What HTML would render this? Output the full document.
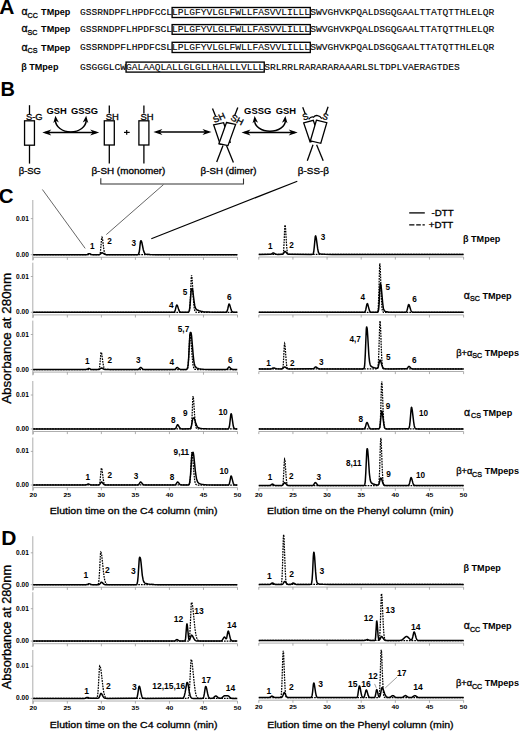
<!DOCTYPE html>
<html><head><meta charset="utf-8"><style>
html,body{margin:0;padding:0;background:#fff;width:520px;height:731px;overflow:hidden}
svg{display:block}

</style></head><body>
<svg width="520" height="731" viewBox="0 0 520 731">
<rect width="520" height="731" fill="#fff"/>
<text transform="translate(-0.80,14.30) scale(1.0,1)" font-family="Liberation Sans" font-size="21" font-weight="bold" font-style="normal" text-anchor="start" fill="#000">A</text>
<text transform="translate(21.60,15.30) scale(1.05,1)" font-family="Liberation Sans" font-size="10.0" font-weight="normal" font-style="normal" text-anchor="start" fill="#000" stroke="#000" stroke-width="0.3">α</text>
<text transform="translate(27.60,17.70) scale(1.05,1)" font-family="Liberation Sans" font-size="6.8" font-weight="normal" font-style="normal" text-anchor="start" fill="#000" stroke="#000" stroke-width="0.3">CC</text>
<text transform="translate(41.10,15.30) scale(1.08,1)" font-family="Liberation Sans" font-size="8.4" font-weight="bold" font-style="normal" text-anchor="start" fill="#000">TMpep</text>
<text transform="translate(80.00,14.90) scale(1.0,1)" font-family="Liberation Mono" font-size="9.595" font-weight="normal" font-style="normal" text-anchor="start" fill="#000" stroke="#000" stroke-width="0.12">GSSRNDPFLHPDFCCL</text>
<text transform="translate(172.11,14.90) scale(1.0,1)" font-family="Liberation Mono" font-size="9.595" font-weight="normal" font-style="normal" text-anchor="start" fill="#000" stroke="#000" stroke-width="0.08">LPLGFYVLGLFWLLFASVVLILLL</text>
<text transform="translate(310.28,14.90) scale(1.0,1)" font-family="Liberation Mono" font-size="9.595" font-weight="normal" font-style="normal" text-anchor="start" fill="#000" stroke="#000" stroke-width="0.12">SWVGHVKPQALDSGQGAALTTATQTTHLELQR</text>
<rect x="172.11" y="7.50" width="138.17" height="10.00" fill="none" stroke="#000" stroke-width="1.35"/>
<text transform="translate(21.60,32.30) scale(1.05,1)" font-family="Liberation Sans" font-size="10.0" font-weight="normal" font-style="normal" text-anchor="start" fill="#000" stroke="#000" stroke-width="0.3">α</text>
<text transform="translate(27.60,34.70) scale(1.05,1)" font-family="Liberation Sans" font-size="6.8" font-weight="normal" font-style="normal" text-anchor="start" fill="#000" stroke="#000" stroke-width="0.3">SC</text>
<text transform="translate(41.10,32.30) scale(1.08,1)" font-family="Liberation Sans" font-size="8.4" font-weight="bold" font-style="normal" text-anchor="start" fill="#000">TMpep</text>
<text transform="translate(80.00,32.20) scale(1.0,1)" font-family="Liberation Mono" font-size="9.595" font-weight="normal" font-style="normal" text-anchor="start" fill="#000" stroke="#000" stroke-width="0.12">GSSRNDPFLHPDFSCL</text>
<text transform="translate(172.11,32.20) scale(1.0,1)" font-family="Liberation Mono" font-size="9.595" font-weight="normal" font-style="normal" text-anchor="start" fill="#000" stroke="#000" stroke-width="0.08">LPLGFYVLGLFWLLFASVVLILLL</text>
<text transform="translate(310.28,32.20) scale(1.0,1)" font-family="Liberation Mono" font-size="9.595" font-weight="normal" font-style="normal" text-anchor="start" fill="#000" stroke="#000" stroke-width="0.12">SWVGHVKPQALDSGQGAALTTATQTTHLELQR</text>
<rect x="172.11" y="24.60" width="138.17" height="9.70" fill="none" stroke="#000" stroke-width="1.35"/>
<text transform="translate(21.60,50.50) scale(1.05,1)" font-family="Liberation Sans" font-size="10.0" font-weight="normal" font-style="normal" text-anchor="start" fill="#000" stroke="#000" stroke-width="0.3">α</text>
<text transform="translate(27.60,52.90) scale(1.05,1)" font-family="Liberation Sans" font-size="6.8" font-weight="normal" font-style="normal" text-anchor="start" fill="#000" stroke="#000" stroke-width="0.3">CS</text>
<text transform="translate(41.10,50.50) scale(1.08,1)" font-family="Liberation Sans" font-size="8.4" font-weight="bold" font-style="normal" text-anchor="start" fill="#000">TMpep</text>
<text transform="translate(80.00,50.40) scale(1.0,1)" font-family="Liberation Mono" font-size="9.595" font-weight="normal" font-style="normal" text-anchor="start" fill="#000" stroke="#000" stroke-width="0.12">GSSRNDPFLHPDFCSL</text>
<text transform="translate(172.11,50.40) scale(1.0,1)" font-family="Liberation Mono" font-size="9.595" font-weight="normal" font-style="normal" text-anchor="start" fill="#000" stroke="#000" stroke-width="0.08">LPLGFYVLGLFWLLFASVVLILLL</text>
<text transform="translate(310.28,50.40) scale(1.0,1)" font-family="Liberation Mono" font-size="9.595" font-weight="normal" font-style="normal" text-anchor="start" fill="#000" stroke="#000" stroke-width="0.12">SWVGHVKPQALDSGQGAALTTATQTTHLELQR</text>
<rect x="172.11" y="42.30" width="138.17" height="10.20" fill="none" stroke="#000" stroke-width="1.35"/>
<text transform="translate(-0.50,70.20) scale(1.03,1)" font-family="Liberation Sans" font-size="9.0" font-weight="normal" font-style="normal" text-anchor="start" fill="#000" stroke="#000" stroke-width="0.3"></text>
<text transform="translate(21.20,70.20) scale(1.08,1)" font-family="Liberation Sans" font-size="8.4" font-weight="bold" font-style="normal" text-anchor="start" fill="#000">β TMpep</text>
<text transform="translate(80.00,70.00) scale(1.0,1)" font-family="Liberation Mono" font-size="9.595" font-weight="normal" font-style="normal" text-anchor="start" fill="#000" stroke="#000" stroke-width="0.12">GSGGGLCW</text>
<text transform="translate(126.06,70.00) scale(1.0,1)" font-family="Liberation Mono" font-size="9.595" font-weight="normal" font-style="normal" text-anchor="start" fill="#000" stroke="#000" stroke-width="0.08">GALAAQLALLGLGLLHALLLVLLL</text>
<text transform="translate(264.22,70.00) scale(1.0,1)" font-family="Liberation Mono" font-size="9.595" font-weight="normal" font-style="normal" text-anchor="start" fill="#000" stroke="#000" stroke-width="0.12">SRLRRLRARARARAAARLSLTDPLVAERAGTDES</text>
<rect x="126.06" y="62.10" width="138.17" height="10.00" fill="none" stroke="#000" stroke-width="1.35"/>
<text transform="translate(0.60,95.70) scale(1.0,1)" font-family="Liberation Sans" font-size="20" font-weight="bold" font-style="normal" text-anchor="start" fill="#000">B</text>
<line x1="29.50" y1="105.20" x2="29.50" y2="114.50" stroke="#000" stroke-width="1.3" />
<rect x="24.55" y="120.80" width="9.90" height="24.40" fill="#fff" stroke="#000" stroke-width="1.3"/>
<line x1="29.50" y1="145.20" x2="29.50" y2="163.60" stroke="#000" stroke-width="1.3" />
<text transform="translate(25.90,120.40) scale(1.04,1)" font-family="Liberation Sans" font-size="9.0" font-weight="normal" font-style="normal" text-anchor="start" fill="#000" stroke="#000" stroke-width="0.3">S-G</text>
<text transform="translate(18.70,174.10) scale(1.05,1)" font-family="Liberation Sans" font-size="9.0" font-weight="normal" font-style="normal" text-anchor="start" fill="#000" stroke="#000" stroke-width="0.3">β-SG</text>
<line x1="109.30" y1="105.50" x2="109.30" y2="113.50" stroke="#000" stroke-width="1.3" />
<rect x="104.30" y="120.80" width="10.00" height="24.20" fill="#fff" stroke="#000" stroke-width="1.3"/>
<line x1="109.30" y1="145.00" x2="109.30" y2="163.50" stroke="#000" stroke-width="1.3" />
<text transform="translate(105.70,119.90) scale(1.05,1)" font-family="Liberation Sans" font-size="9.0" font-weight="normal" font-style="normal" text-anchor="start" fill="#000" stroke="#000" stroke-width="0.3">SH</text>
<line x1="143.90" y1="105.50" x2="143.90" y2="113.50" stroke="#000" stroke-width="1.3" />
<rect x="138.90" y="120.80" width="10.00" height="24.20" fill="#fff" stroke="#000" stroke-width="1.3"/>
<line x1="143.90" y1="145.00" x2="143.90" y2="163.50" stroke="#000" stroke-width="1.3" />
<text transform="translate(140.40,119.90) scale(1.05,1)" font-family="Liberation Sans" font-size="9.0" font-weight="normal" font-style="normal" text-anchor="start" fill="#000" stroke="#000" stroke-width="0.3">SH</text>
<line x1="124.00" y1="132.40" x2="129.70" y2="132.40" stroke="#000" stroke-width="1.2" />
<line x1="126.70" y1="130.00" x2="126.70" y2="134.80" stroke="#000" stroke-width="1.2" />
<text transform="translate(91.40,174.10) scale(1.1,1)" font-family="Liberation Sans" font-size="9.0" font-weight="normal" font-style="normal" text-anchor="start" fill="#000" stroke="#000" stroke-width="0.3">β-SH (monomer)</text>
<text transform="translate(200.60,174.10) scale(1.08,1)" font-family="Liberation Sans" font-size="9.0" font-weight="normal" font-style="normal" text-anchor="start" fill="#000" stroke="#000" stroke-width="0.3">β-SH (dimer)</text>
<text transform="translate(297.80,174.10) scale(1.1,1)" font-family="Liberation Sans" font-size="9.0" font-weight="normal" font-style="normal" text-anchor="start" fill="#000" stroke="#000" stroke-width="0.3">β-SS-β</text>
<line x1="45.30" y1="132.40" x2="96.20" y2="132.40" stroke="#000" stroke-width="1.5" />
<path d="M42.30,132.40 L51.30,129.40 L48.78,132.40 L51.30,135.40 Z" fill="#000" stroke="none"/>
<path d="M99.20,132.40 L90.20,135.40 L92.72,132.40 L90.20,129.40 Z" fill="#000" stroke="none"/>
<path d="M55.40,120.30 A15.40,11.60 0 0 0 86.20,120.30" stroke="#000" stroke-width="1.5" fill="none" />
<path d="M55.40,115.80 L58.88,122.49 L55.90,120.81 L53.31,123.04 Z" fill="#000" stroke="none"/>
<path d="M86.20,115.80 L88.29,123.04 L85.70,120.81 L82.72,122.49 Z" fill="#000" stroke="none"/>
<text transform="translate(46.40,113.80) scale(1.12,1)" font-family="Liberation Sans" font-size="8.4" font-weight="bold" font-style="normal" text-anchor="start" fill="#000">GSH</text>
<text transform="translate(71.00,113.80) scale(1.12,1)" font-family="Liberation Sans" font-size="8.4" font-weight="bold" font-style="normal" text-anchor="start" fill="#000">GSSG</text>
<line x1="156.40" y1="132.00" x2="208.50" y2="132.00" stroke="#000" stroke-width="1.5" />
<path d="M153.40,132.00 L162.40,129.00 L159.88,132.00 L162.40,135.00 Z" fill="#000" stroke="none"/>
<path d="M211.50,132.00 L202.50,135.00 L205.02,132.00 L202.50,129.00 Z" fill="#000" stroke="none"/>
<line x1="244.50" y1="132.40" x2="294.70" y2="132.40" stroke="#000" stroke-width="1.5" />
<path d="M241.50,132.40 L250.50,129.40 L247.98,132.40 L250.50,135.40 Z" fill="#000" stroke="none"/>
<path d="M297.70,132.40 L288.70,135.40 L291.22,132.40 L288.70,129.40 Z" fill="#000" stroke="none"/>
<path d="M254.60,120.50 A15.40,10.70 0 0 0 285.40,120.50" stroke="#000" stroke-width="1.5" fill="none" />
<path d="M254.60,116.00 L258.08,122.69 L255.10,121.01 L252.51,123.24 Z" fill="#000" stroke="none"/>
<path d="M285.40,116.00 L287.49,123.24 L284.90,121.01 L281.92,122.69 Z" fill="#000" stroke="none"/>
<text transform="translate(244.10,113.80) scale(1.12,1)" font-family="Liberation Sans" font-size="8.4" font-weight="bold" font-style="normal" text-anchor="start" fill="#000">GSSG</text>
<text transform="translate(275.70,113.80) scale(1.12,1)" font-family="Liberation Sans" font-size="8.4" font-weight="bold" font-style="normal" text-anchor="start" fill="#000">GSH</text>
<line x1="212.50" y1="108.60" x2="215.60" y2="116.30" stroke="#000" stroke-width="1.3" />
<line x1="237.80" y1="107.50" x2="234.60" y2="115.80" stroke="#000" stroke-width="1.3" />
<line x1="223.00" y1="145.50" x2="216.70" y2="161.90" stroke="#000" stroke-width="1.3" />
<line x1="226.50" y1="145.50" x2="233.40" y2="162.50" stroke="#000" stroke-width="1.3" />
<polygon points="213.60,124.80 223.60,122.70 230.20,142.20 220.20,144.30" fill="#fff" stroke="#000" stroke-width="1.3" stroke-linejoin="miter"/>
<polygon points="226.50,122.50 235.60,124.40 228.00,145.60 218.90,143.70" fill="#fff" stroke="#000" stroke-width="1.3" stroke-linejoin="miter"/>
<text transform="translate(214.4,122.9) rotate(-24) scale(1.05,1)" font-family="Liberation Sans" font-size="8.6" stroke="#000" stroke-width="0.3">SH</text>
<text transform="translate(230.0,119.6) rotate(27) scale(1.05,1)" font-family="Liberation Sans" font-size="9" stroke="#000" stroke-width="0.3">SH</text>
<line x1="302.70" y1="107.30" x2="305.30" y2="114.00" stroke="#000" stroke-width="1.3" />
<line x1="328.10" y1="106.80" x2="325.60" y2="114.00" stroke="#000" stroke-width="1.3" />
<line x1="313.00" y1="144.80" x2="307.30" y2="160.70" stroke="#000" stroke-width="1.3" />
<line x1="316.60" y1="144.80" x2="323.20" y2="160.70" stroke="#000" stroke-width="1.3" />
<polygon points="303.70,122.90 313.30,120.40 319.70,139.40 310.10,141.90" fill="#fff" stroke="#000" stroke-width="1.3" stroke-linejoin="miter"/>
<polygon points="316.40,120.20 326.80,122.70 320.80,143.30 310.40,140.80" fill="#fff" stroke="#000" stroke-width="1.3" stroke-linejoin="miter"/>
<text transform="translate(303.6,120.4) rotate(-18)" font-family="Liberation Sans" font-size="8.8" stroke="#000" stroke-width="0.3">S</text>
<text transform="translate(321.6,118.6) rotate(20)" font-family="Liberation Sans" font-size="8.8" stroke="#000" stroke-width="0.3">S</text>
<path d="M308.6,119.4 C310.5,116.8 312.0,116.6 313.6,117.2 C315.5,114.6 319.5,115.0 321.8,118.6" stroke="#000" stroke-width="1.3" fill="none" />
<path d="M100.8,178.2 L100.8,184.0 L243.5,184.0 L243.5,178.6" stroke="#333" stroke-width="1.1" fill="none" />
<line x1="42.40" y1="189.50" x2="85.20" y2="248.40" stroke="#555" stroke-width="0.9" />
<line x1="163.50" y1="184.60" x2="106.30" y2="234.60" stroke="#555" stroke-width="0.9" />
<line x1="297.30" y1="181.20" x2="151.30" y2="238.70" stroke="#000" stroke-width="1.2" />
<text transform="translate(-1.20,203.20) scale(1.0,1)" font-family="Liberation Sans" font-size="20.5" font-weight="bold" font-style="normal" text-anchor="start" fill="#000">C</text>
<line x1="33.30" y1="257.30" x2="237.50" y2="257.30" stroke="#999" stroke-width="0.8" />
<line x1="33.30" y1="257.30" x2="33.30" y2="259.90" stroke="#999" stroke-width="0.8" />
<line x1="67.33" y1="257.30" x2="67.33" y2="259.90" stroke="#999" stroke-width="0.8" />
<line x1="101.37" y1="257.30" x2="101.37" y2="259.90" stroke="#999" stroke-width="0.8" />
<line x1="135.40" y1="257.30" x2="135.40" y2="259.90" stroke="#999" stroke-width="0.8" />
<line x1="169.43" y1="257.30" x2="169.43" y2="259.90" stroke="#999" stroke-width="0.8" />
<line x1="203.47" y1="257.30" x2="203.47" y2="259.90" stroke="#999" stroke-width="0.8" />
<line x1="237.50" y1="257.30" x2="237.50" y2="259.90" stroke="#999" stroke-width="0.8" />
<line x1="32.80" y1="200.00" x2="32.80" y2="260.50" stroke="#999" stroke-width="0.8" />
<line x1="30.80" y1="218.60" x2="32.80" y2="218.60" stroke="#999" stroke-width="0.8" />
<line x1="30.80" y1="254.70" x2="32.80" y2="254.70" stroke="#999" stroke-width="0.8" />
<text transform="translate(28.90,220.60) scale(0.97,1)" font-family="Liberation Sans" font-size="6.8" font-weight="bold" font-style="normal" text-anchor="end" fill="#000">0.01</text>
<text transform="translate(28.90,256.70) scale(0.97,1)" font-family="Liberation Sans" font-size="6.8" font-weight="bold" font-style="normal" text-anchor="end" fill="#000">0.00</text>
<path d="M33.3,254.70 L99.3,254.64 L99.8,254.30 L100.0,253.80 L100.3,252.86 L100.5,251.29 L101.5,239.68 L101.8,237.64 L102.0,237.12 L102.3,237.64 L102.5,238.85 L103.8,248.99 L104.3,251.90 L104.5,252.86 L105.0,254.00 L105.5,254.48 L106.0,254.64 L237.3,254.70" stroke="#000" stroke-width="1.25" fill="none" stroke-dasharray="1.7 1.0"/>
<path d="M33.3,254.70 L86.0,254.69 L87.3,254.54 L88.8,253.78 L89.3,253.70 L89.8,253.80 L91.3,254.43 L92.3,254.64 L98.8,254.69 L99.5,254.60 L100.0,254.40 L100.5,254.00 L101.5,252.89 L102.0,252.70 L102.8,252.97 L104.0,253.91 L104.8,254.35 L105.5,254.58 L106.3,254.67 L137.6,254.68 L138.1,254.57 L138.6,254.08 L139.1,252.59 L139.6,249.36 L140.3,242.70 L140.6,241.23 L140.8,240.70 L141.1,240.75 L141.3,240.97 L141.8,242.23 L143.3,249.66 L144.1,252.21 L144.6,253.20 L145.1,253.78 L145.8,254.20 L146.6,254.37 L150.1,254.60 L156.6,254.69 L237.3,254.70" stroke="#000" stroke-width="1.5" fill="none" stroke-linejoin="round"/>
<line x1="258.80" y1="257.00" x2="463.60" y2="257.00" stroke="#999" stroke-width="0.8" />
<line x1="258.80" y1="257.00" x2="258.80" y2="259.60" stroke="#999" stroke-width="0.8" />
<line x1="292.93" y1="257.00" x2="292.93" y2="259.60" stroke="#999" stroke-width="0.8" />
<line x1="327.07" y1="257.00" x2="327.07" y2="259.60" stroke="#999" stroke-width="0.8" />
<line x1="361.20" y1="257.00" x2="361.20" y2="259.60" stroke="#999" stroke-width="0.8" />
<line x1="395.33" y1="257.00" x2="395.33" y2="259.60" stroke="#999" stroke-width="0.8" />
<line x1="429.47" y1="257.00" x2="429.47" y2="259.60" stroke="#999" stroke-width="0.8" />
<line x1="463.60" y1="257.00" x2="463.60" y2="259.60" stroke="#999" stroke-width="0.8" />
<path d="M258.8,254.40 L281.8,254.40 L282.6,254.34 L282.8,254.19 L283.1,253.79 L283.3,252.85 L283.6,250.95 L284.1,242.65 L284.6,230.41 L284.8,226.08 L285.1,224.94 L285.3,226.20 L285.6,229.04 L286.6,245.53 L287.1,250.79 L287.6,253.26 L287.8,253.81 L288.1,254.12 L288.6,254.35 L463.6,254.40" stroke="#000" stroke-width="1.25" fill="none" stroke-dasharray="1.7 1.0"/>
<path d="M258.8,254.40 L270.6,254.36 L271.3,254.15 L272.8,253.02 L273.3,252.90 L273.8,253.05 L275.3,253.99 L276.3,254.31 L277.8,254.40 L282.1,254.36 L282.6,254.25 L283.1,253.95 L283.6,253.35 L284.6,251.69 L284.8,251.46 L285.1,251.40 L285.3,251.48 L285.8,251.92 L287.3,253.77 L288.1,254.21 L288.8,254.36 L311.3,254.40 L312.6,254.31 L313.1,253.95 L313.3,253.47 L313.8,251.29 L314.3,246.79 L315.1,238.07 L315.3,236.35 L315.6,235.91 L315.8,236.24 L316.3,238.42 L317.6,248.14 L318.3,251.85 L318.8,253.05 L319.3,253.62 L319.8,253.88 L320.8,254.08 L324.8,254.32 L332.3,254.39 L463.6,254.40" stroke="#000" stroke-width="1.5" fill="none" stroke-linejoin="round"/>
<text transform="translate(90.10,249.20) scale(1.0,1)" font-family="Liberation Sans" font-size="8.2" font-weight="bold" font-style="normal" text-anchor="start" fill="#000">1</text>
<text transform="translate(107.30,244.20) scale(1.0,1)" font-family="Liberation Sans" font-size="8.2" font-weight="bold" font-style="normal" text-anchor="start" fill="#000">2</text>
<text transform="translate(131.60,245.80) scale(1.0,1)" font-family="Liberation Sans" font-size="8.2" font-weight="bold" font-style="normal" text-anchor="start" fill="#000">3</text>
<text transform="translate(267.90,248.50) scale(1.0,1)" font-family="Liberation Sans" font-size="8.2" font-weight="bold" font-style="normal" text-anchor="start" fill="#000">1</text>
<text transform="translate(289.20,248.00) scale(1.0,1)" font-family="Liberation Sans" font-size="8.2" font-weight="bold" font-style="normal" text-anchor="start" fill="#000">2</text>
<text transform="translate(320.80,239.60) scale(1.0,1)" font-family="Liberation Sans" font-size="8.2" font-weight="bold" font-style="normal" text-anchor="start" fill="#000">3</text>
<text transform="translate(-0.50,241.90) scale(1.03,1)" font-family="Liberation Sans" font-size="9.0" font-weight="normal" font-style="normal" text-anchor="start" fill="#000" stroke="#000" stroke-width="0.3"></text>
<text transform="translate(463.00,241.90) scale(1.08,1)" font-family="Liberation Sans" font-size="8.4" font-weight="bold" font-style="normal" text-anchor="start" fill="#000">β TMpep</text>
<line x1="409.20" y1="212.90" x2="424.80" y2="212.90" stroke="#000" stroke-width="1.3" />
<line x1="409.20" y1="224.80" x2="425.00" y2="224.80" stroke="#000" stroke-width="1.3" stroke-dasharray="5.2 1.8 4.6 1.7 2.3"/>
<text transform="translate(431.60,216.40) scale(1.1,1)" font-family="Liberation Sans" font-size="8.8" font-weight="normal" font-style="normal" text-anchor="start" fill="#000" stroke="#000" stroke-width="0.3">-DTT</text>
<text transform="translate(428.80,227.70) scale(1.1,1)" font-family="Liberation Sans" font-size="8.8" font-weight="normal" font-style="normal" text-anchor="start" fill="#000" stroke="#000" stroke-width="0.3">+DTT</text>
<line x1="33.30" y1="314.90" x2="237.50" y2="314.90" stroke="#999" stroke-width="0.8" />
<line x1="33.30" y1="314.90" x2="33.30" y2="317.50" stroke="#999" stroke-width="0.8" />
<line x1="67.33" y1="314.90" x2="67.33" y2="317.50" stroke="#999" stroke-width="0.8" />
<line x1="101.37" y1="314.90" x2="101.37" y2="317.50" stroke="#999" stroke-width="0.8" />
<line x1="135.40" y1="314.90" x2="135.40" y2="317.50" stroke="#999" stroke-width="0.8" />
<line x1="169.43" y1="314.90" x2="169.43" y2="317.50" stroke="#999" stroke-width="0.8" />
<line x1="203.47" y1="314.90" x2="203.47" y2="317.50" stroke="#999" stroke-width="0.8" />
<line x1="237.50" y1="314.90" x2="237.50" y2="317.50" stroke="#999" stroke-width="0.8" />
<line x1="32.80" y1="262.70" x2="32.80" y2="318.10" stroke="#999" stroke-width="0.8" />
<line x1="30.80" y1="276.50" x2="32.80" y2="276.50" stroke="#999" stroke-width="0.8" />
<line x1="30.80" y1="312.30" x2="32.80" y2="312.30" stroke="#999" stroke-width="0.8" />
<text transform="translate(28.90,278.50) scale(0.97,1)" font-family="Liberation Sans" font-size="6.8" font-weight="bold" font-style="normal" text-anchor="end" fill="#000">0.01</text>
<text transform="translate(28.90,314.30) scale(0.97,1)" font-family="Liberation Sans" font-size="6.8" font-weight="bold" font-style="normal" text-anchor="end" fill="#000">0.00</text>
<path d="M33.3,312.30 L188.6,312.26 L189.1,311.96 L189.3,311.46 L189.6,310.40 L189.8,308.43 L190.3,300.29 L191.1,280.71 L191.3,276.44 L191.6,275.33 L191.8,276.27 L192.1,278.47 L193.3,298.11 L194.1,306.90 L194.3,308.66 L194.8,310.82 L195.1,311.41 L195.6,312.01 L196.1,312.22 L197.3,312.30 L237.3,312.30" stroke="#000" stroke-width="1.25" fill="none" stroke-dasharray="1.7 1.0"/>
<path d="M33.3,312.30 L173.3,312.28 L173.8,312.22 L174.3,311.98 L174.8,311.31 L175.3,309.93 L176.3,305.86 L176.6,305.22 L176.8,305.00 L177.1,305.13 L177.6,306.12 L178.6,309.35 L179.1,310.67 L179.6,311.52 L180.1,311.98 L180.6,312.19 L181.6,312.29 L188.1,312.24 L188.6,312.00 L188.8,311.69 L189.1,311.14 L189.6,308.80 L190.1,304.12 L191.1,291.15 L191.3,289.36 L191.6,288.89 L192.1,288.60 L192.3,288.82 L192.6,289.63 L192.8,291.06 L194.1,301.52 L194.8,305.88 L195.3,307.62 L195.8,308.70 L196.6,309.58 L197.3,310.07 L199.1,310.75 L201.1,311.26 L203.3,311.64 L206.1,311.92 L209.6,312.11 L214.3,312.23 L224.8,312.29 L226.1,312.21 L226.6,311.97 L226.8,311.70 L227.3,310.65 L227.8,308.73 L228.6,305.16 L228.8,304.36 L229.1,304.01 L229.3,304.09 L229.8,305.12 L231.1,309.60 L231.6,310.89 L232.1,311.67 L232.6,312.05 L233.3,312.25 L237.3,312.30" stroke="#000" stroke-width="1.5" fill="none" stroke-linejoin="round"/>
<line x1="258.80" y1="314.90" x2="463.60" y2="314.90" stroke="#999" stroke-width="0.8" />
<line x1="258.80" y1="314.90" x2="258.80" y2="317.50" stroke="#999" stroke-width="0.8" />
<line x1="292.93" y1="314.90" x2="292.93" y2="317.50" stroke="#999" stroke-width="0.8" />
<line x1="327.07" y1="314.90" x2="327.07" y2="317.50" stroke="#999" stroke-width="0.8" />
<line x1="361.20" y1="314.90" x2="361.20" y2="317.50" stroke="#999" stroke-width="0.8" />
<line x1="395.33" y1="314.90" x2="395.33" y2="317.50" stroke="#999" stroke-width="0.8" />
<line x1="429.47" y1="314.90" x2="429.47" y2="317.50" stroke="#999" stroke-width="0.8" />
<line x1="463.60" y1="314.90" x2="463.60" y2="317.50" stroke="#999" stroke-width="0.8" />
<path d="M258.8,312.30 L376.3,312.30 L377.3,312.22 L377.6,312.02 L377.8,311.47 L378.1,310.15 L378.3,307.37 L378.8,294.64 L379.6,266.33 L379.8,263.30 L380.1,264.81 L380.3,269.06 L381.3,296.39 L381.8,305.67 L382.3,310.15 L382.6,311.18 L382.8,311.76 L383.1,312.05 L383.6,312.26 L384.6,312.30 L463.6,312.30" stroke="#000" stroke-width="1.25" fill="none" stroke-dasharray="1.7 1.0"/>
<path d="M258.8,312.30 L363.8,312.28 L364.3,312.20 L364.8,311.92 L365.3,311.12 L365.8,309.48 L366.8,304.62 L367.1,303.87 L367.3,303.60 L367.6,303.79 L367.8,304.32 L369.3,310.13 L369.8,311.31 L370.3,311.92 L370.8,312.18 L371.6,312.28 L376.8,312.30 L377.6,312.22 L377.8,312.08 L378.1,311.75 L378.3,311.04 L378.6,309.69 L378.8,307.37 L379.1,303.86 L379.8,288.77 L380.1,285.06 L380.3,283.70 L380.6,283.91 L380.8,284.66 L381.1,286.09 L381.6,290.87 L382.6,302.43 L383.3,307.84 L383.6,308.92 L384.1,310.28 L384.6,310.97 L385.1,311.33 L385.6,311.53 L388.1,311.98 L391.6,312.20 L404.3,312.30 L405.8,312.18 L406.3,311.86 L406.8,311.02 L407.3,309.37 L408.3,305.10 L408.6,304.59 L408.8,304.52 L409.1,304.78 L409.3,305.29 L410.6,309.47 L411.1,310.78 L411.3,311.24 L411.8,311.85 L412.3,312.13 L412.8,312.25 L463.6,312.30" stroke="#000" stroke-width="1.5" fill="none" stroke-linejoin="round"/>
<text transform="translate(169.00,307.90) scale(1.0,1)" font-family="Liberation Sans" font-size="8.2" font-weight="bold" font-style="normal" text-anchor="start" fill="#000">4</text>
<text transform="translate(182.80,295.20) scale(1.0,1)" font-family="Liberation Sans" font-size="8.2" font-weight="bold" font-style="normal" text-anchor="start" fill="#000">5</text>
<text transform="translate(227.00,300.40) scale(1.0,1)" font-family="Liberation Sans" font-size="8.2" font-weight="bold" font-style="normal" text-anchor="start" fill="#000">6</text>
<text transform="translate(360.40,299.70) scale(1.0,1)" font-family="Liberation Sans" font-size="8.2" font-weight="bold" font-style="normal" text-anchor="start" fill="#000">4</text>
<text transform="translate(385.50,289.70) scale(1.0,1)" font-family="Liberation Sans" font-size="8.2" font-weight="bold" font-style="normal" text-anchor="start" fill="#000">5</text>
<text transform="translate(412.30,302.20) scale(1.0,1)" font-family="Liberation Sans" font-size="8.2" font-weight="bold" font-style="normal" text-anchor="start" fill="#000">6</text>
<text transform="translate(463.70,298.50) scale(1.05,1)" font-family="Liberation Sans" font-size="10.0" font-weight="normal" font-style="normal" text-anchor="start" fill="#000" stroke="#000" stroke-width="0.3">α</text>
<text transform="translate(469.90,300.90) scale(1.05,1)" font-family="Liberation Sans" font-size="6.8" font-weight="normal" font-style="normal" text-anchor="start" fill="#000" stroke="#000" stroke-width="0.3">SC</text>
<text transform="translate(482.40,298.50) scale(1.08,1)" font-family="Liberation Sans" font-size="8.4" font-weight="bold" font-style="normal" text-anchor="start" fill="#000">TMpep</text>
<line x1="33.30" y1="372.10" x2="237.50" y2="372.10" stroke="#999" stroke-width="0.8" />
<line x1="33.30" y1="372.10" x2="33.30" y2="374.70" stroke="#999" stroke-width="0.8" />
<line x1="67.33" y1="372.10" x2="67.33" y2="374.70" stroke="#999" stroke-width="0.8" />
<line x1="101.37" y1="372.10" x2="101.37" y2="374.70" stroke="#999" stroke-width="0.8" />
<line x1="135.40" y1="372.10" x2="135.40" y2="374.70" stroke="#999" stroke-width="0.8" />
<line x1="169.43" y1="372.10" x2="169.43" y2="374.70" stroke="#999" stroke-width="0.8" />
<line x1="203.47" y1="372.10" x2="203.47" y2="374.70" stroke="#999" stroke-width="0.8" />
<line x1="237.50" y1="372.10" x2="237.50" y2="374.70" stroke="#999" stroke-width="0.8" />
<line x1="32.80" y1="320.60" x2="32.80" y2="375.30" stroke="#999" stroke-width="0.8" />
<line x1="30.80" y1="334.50" x2="32.80" y2="334.50" stroke="#999" stroke-width="0.8" />
<line x1="30.80" y1="369.50" x2="32.80" y2="369.50" stroke="#999" stroke-width="0.8" />
<text transform="translate(28.90,336.50) scale(0.97,1)" font-family="Liberation Sans" font-size="6.8" font-weight="bold" font-style="normal" text-anchor="end" fill="#000">0.01</text>
<text transform="translate(28.90,371.50) scale(0.97,1)" font-family="Liberation Sans" font-size="6.8" font-weight="bold" font-style="normal" text-anchor="end" fill="#000">0.00</text>
<path d="M33.3,369.50 L97.3,369.50 L98.5,369.43 L98.8,369.31 L99.0,369.03 L99.3,368.47 L99.5,367.44 L100.0,363.34 L100.8,354.23 L101.0,352.50 L101.3,352.25 L101.5,352.82 L101.8,353.95 L103.0,363.22 L103.8,367.16 L104.0,367.94 L104.5,368.87 L105.0,369.28 L105.5,369.44 L108.8,369.50 L185.6,369.50 L186.8,369.44 L187.3,369.11 L187.6,368.63 L187.8,367.71 L188.3,363.54 L188.8,354.91 L189.6,338.17 L189.8,334.87 L190.1,334.02 L190.3,334.70 L190.8,338.71 L192.1,355.55 L192.8,363.28 L193.1,365.01 L193.6,367.34 L194.1,368.57 L194.6,369.14 L195.3,369.43 L196.6,369.50 L237.3,369.50" stroke="#000" stroke-width="1.25" fill="none" stroke-dasharray="1.7 1.0"/>
<path d="M33.3,369.50 L85.5,369.49 L86.8,369.34 L88.3,368.58 L88.8,368.50 L89.3,368.60 L90.8,369.23 L91.8,369.44 L98.3,369.49 L99.0,369.43 L99.5,369.28 L100.0,368.98 L101.0,368.14 L101.5,368.00 L102.3,368.26 L103.8,369.19 L104.5,369.40 L105.3,369.48 L137.1,369.50 L138.1,369.42 L138.6,369.26 L139.1,368.90 L140.1,367.78 L140.6,367.50 L140.8,367.52 L141.3,367.77 L142.6,368.85 L143.1,369.16 L143.8,369.40 L144.6,369.48 L174.1,369.49 L174.8,369.39 L175.3,369.17 L176.8,367.65 L177.3,367.51 L177.8,367.70 L179.3,368.96 L180.3,369.38 L181.8,369.50 L186.3,369.45 L186.8,369.27 L187.3,368.60 L187.8,366.70 L188.1,364.93 L188.6,359.06 L189.8,336.13 L190.1,333.44 L190.3,332.50 L190.6,332.43 L190.8,332.46 L191.1,332.94 L191.3,334.15 L191.6,336.15 L193.1,354.26 L193.8,360.83 L194.3,363.65 L194.8,365.47 L195.3,366.60 L196.1,367.52 L197.1,368.10 L198.8,368.62 L201.1,369.00 L203.6,369.23 L210.6,369.45 L225.6,369.49 L226.6,369.37 L227.1,369.13 L227.6,368.63 L228.6,367.24 L228.8,367.05 L229.1,367.00 L229.3,367.07 L229.8,367.43 L231.3,368.98 L232.1,369.34 L233.3,369.49 L237.3,369.50" stroke="#000" stroke-width="1.5" fill="none" stroke-linejoin="round"/>
<line x1="258.80" y1="371.50" x2="463.60" y2="371.50" stroke="#999" stroke-width="0.8" />
<line x1="258.80" y1="371.50" x2="258.80" y2="374.10" stroke="#999" stroke-width="0.8" />
<line x1="292.93" y1="371.50" x2="292.93" y2="374.10" stroke="#999" stroke-width="0.8" />
<line x1="327.07" y1="371.50" x2="327.07" y2="374.10" stroke="#999" stroke-width="0.8" />
<line x1="361.20" y1="371.50" x2="361.20" y2="374.10" stroke="#999" stroke-width="0.8" />
<line x1="395.33" y1="371.50" x2="395.33" y2="374.10" stroke="#999" stroke-width="0.8" />
<line x1="429.47" y1="371.50" x2="429.47" y2="374.10" stroke="#999" stroke-width="0.8" />
<line x1="463.60" y1="371.50" x2="463.60" y2="374.10" stroke="#999" stroke-width="0.8" />
<path d="M258.8,368.90 L281.6,368.90 L282.3,368.78 L282.6,368.55 L282.8,367.97 L283.1,366.70 L283.3,364.35 L284.3,345.64 L284.6,343.46 L284.8,343.90 L285.1,345.86 L286.1,359.99 L286.6,365.09 L287.1,367.63 L287.3,368.23 L287.6,368.57 L288.1,368.83 L289.8,368.90 L377.1,368.85 L377.3,368.74 L377.6,368.46 L377.8,367.81 L378.1,366.44 L378.3,363.88 L378.8,353.32 L379.6,327.92 L379.8,322.38 L380.1,320.96 L380.3,323.01 L380.6,327.64 L381.3,348.28 L381.8,359.40 L382.1,363.03 L382.6,367.04 L382.8,367.95 L383.1,368.44 L383.3,368.69 L383.8,368.86 L384.8,368.90 L463.6,368.90" stroke="#000" stroke-width="1.25" fill="none" stroke-dasharray="1.7 1.0"/>
<path d="M258.8,368.90 L270.8,368.88 L271.8,368.70 L273.1,368.04 L273.6,367.90 L274.3,368.03 L275.6,368.58 L276.6,368.82 L281.6,368.88 L282.3,368.76 L282.8,368.50 L284.1,367.18 L284.6,366.90 L284.8,366.92 L285.3,367.17 L286.6,368.25 L287.1,368.56 L287.8,368.80 L288.8,368.89 L312.8,368.87 L313.3,368.79 L313.8,368.57 L315.3,367.05 L315.8,366.91 L316.3,367.10 L318.1,368.51 L318.8,368.78 L319.8,368.89 L362.3,368.90 L363.1,368.88 L363.6,368.77 L363.8,368.57 L364.1,368.14 L364.3,367.30 L364.6,365.76 L364.8,363.22 L365.3,354.10 L366.1,334.05 L366.3,329.17 L366.6,326.96 L366.8,327.11 L367.1,328.10 L367.3,330.11 L367.8,337.20 L368.8,354.54 L369.1,357.70 L369.6,362.09 L370.1,364.47 L370.6,365.67 L371.3,366.50 L372.6,367.19 L374.3,367.80 L376.1,368.18 L377.1,368.24 L377.6,367.99 L378.1,367.20 L378.3,366.49 L379.6,360.92 L379.8,360.29 L380.1,360.14 L380.3,360.35 L380.8,361.46 L382.1,365.83 L382.6,367.14 L383.3,368.26 L383.8,368.58 L384.6,368.77 L391.3,368.88 L406.1,368.86 L406.6,368.74 L407.1,368.45 L407.6,367.89 L408.3,366.81 L408.8,366.41 L409.1,366.42 L409.6,366.69 L410.8,368.04 L411.3,368.45 L412.1,368.77 L413.1,368.88 L463.6,368.90" stroke="#000" stroke-width="1.5" fill="none" stroke-linejoin="round"/>
<text transform="translate(85.00,364.20) scale(1.0,1)" font-family="Liberation Sans" font-size="8.2" font-weight="bold" font-style="normal" text-anchor="start" fill="#000">1</text>
<text transform="translate(107.50,363.20) scale(1.0,1)" font-family="Liberation Sans" font-size="8.2" font-weight="bold" font-style="normal" text-anchor="start" fill="#000">2</text>
<text transform="translate(135.90,362.80) scale(1.0,1)" font-family="Liberation Sans" font-size="8.2" font-weight="bold" font-style="normal" text-anchor="start" fill="#000">3</text>
<text transform="translate(169.40,365.00) scale(1.0,1)" font-family="Liberation Sans" font-size="8.2" font-weight="bold" font-style="normal" text-anchor="start" fill="#000">4</text>
<text transform="translate(177.80,331.80) scale(1.0,1)" font-family="Liberation Sans" font-size="8.2" font-weight="bold" font-style="normal" text-anchor="start" fill="#000">5,7</text>
<text transform="translate(228.00,362.80) scale(1.0,1)" font-family="Liberation Sans" font-size="8.2" font-weight="bold" font-style="normal" text-anchor="start" fill="#000">6</text>
<text transform="translate(266.20,366.20) scale(1.0,1)" font-family="Liberation Sans" font-size="8.2" font-weight="bold" font-style="normal" text-anchor="start" fill="#000">1</text>
<text transform="translate(290.10,365.60) scale(1.0,1)" font-family="Liberation Sans" font-size="8.2" font-weight="bold" font-style="normal" text-anchor="start" fill="#000">2</text>
<text transform="translate(319.10,365.00) scale(1.0,1)" font-family="Liberation Sans" font-size="8.2" font-weight="bold" font-style="normal" text-anchor="start" fill="#000">3</text>
<text transform="translate(349.40,342.30) scale(1.0,1)" font-family="Liberation Sans" font-size="8.2" font-weight="bold" font-style="normal" text-anchor="start" fill="#000">4,7</text>
<text transform="translate(385.90,360.30) scale(1.0,1)" font-family="Liberation Sans" font-size="8.2" font-weight="bold" font-style="normal" text-anchor="start" fill="#000">5</text>
<text transform="translate(412.10,362.80) scale(1.0,1)" font-family="Liberation Sans" font-size="8.2" font-weight="bold" font-style="normal" text-anchor="start" fill="#000">6</text>
<text transform="translate(456.20,355.70) scale(1.03,1)" font-family="Liberation Sans" font-size="9.0" font-weight="normal" font-style="normal" text-anchor="start" fill="#000" stroke="#000" stroke-width="0.3">β+α</text>
<text transform="translate(472.30,358.10) scale(1.05,1)" font-family="Liberation Sans" font-size="6.8" font-weight="normal" font-style="normal" text-anchor="start" fill="#000" stroke="#000" stroke-width="0.3">SC</text>
<text transform="translate(484.70,355.70) scale(1.08,1)" font-family="Liberation Sans" font-size="8.4" font-weight="bold" font-style="normal" text-anchor="start" fill="#000">TMpeps</text>
<line x1="33.30" y1="431.50" x2="237.50" y2="431.50" stroke="#999" stroke-width="0.8" />
<line x1="33.30" y1="431.50" x2="33.30" y2="434.10" stroke="#999" stroke-width="0.8" />
<line x1="67.33" y1="431.50" x2="67.33" y2="434.10" stroke="#999" stroke-width="0.8" />
<line x1="101.37" y1="431.50" x2="101.37" y2="434.10" stroke="#999" stroke-width="0.8" />
<line x1="135.40" y1="431.50" x2="135.40" y2="434.10" stroke="#999" stroke-width="0.8" />
<line x1="169.43" y1="431.50" x2="169.43" y2="434.10" stroke="#999" stroke-width="0.8" />
<line x1="203.47" y1="431.50" x2="203.47" y2="434.10" stroke="#999" stroke-width="0.8" />
<line x1="237.50" y1="431.50" x2="237.50" y2="434.10" stroke="#999" stroke-width="0.8" />
<line x1="32.80" y1="381.00" x2="32.80" y2="434.70" stroke="#999" stroke-width="0.8" />
<line x1="30.80" y1="395.00" x2="32.80" y2="395.00" stroke="#999" stroke-width="0.8" />
<line x1="30.80" y1="428.90" x2="32.80" y2="428.90" stroke="#999" stroke-width="0.8" />
<text transform="translate(28.90,397.00) scale(0.97,1)" font-family="Liberation Sans" font-size="6.8" font-weight="bold" font-style="normal" text-anchor="end" fill="#000">0.01</text>
<text transform="translate(28.90,430.90) scale(0.97,1)" font-family="Liberation Sans" font-size="6.8" font-weight="bold" font-style="normal" text-anchor="end" fill="#000">0.00</text>
<path d="M33.3,428.90 L190.3,428.88 L190.8,428.67 L191.1,428.22 L191.3,427.18 L191.6,425.06 L192.1,415.84 L192.6,402.22 L192.8,397.41 L193.1,396.13 L193.3,397.11 L193.6,399.37 L194.8,418.25 L195.3,423.67 L195.6,425.47 L196.1,427.60 L196.3,428.15 L196.8,428.68 L197.3,428.85 L198.3,428.90 L237.3,428.90" stroke="#000" stroke-width="1.25" fill="none" stroke-dasharray="1.7 1.0"/>
<path d="M33.3,428.90 L174.1,428.89 L175.1,428.74 L175.6,428.39 L176.1,427.64 L177.1,425.29 L177.3,424.88 L177.6,424.71 L177.8,424.75 L178.3,425.27 L179.8,427.90 L180.3,428.41 L180.8,428.70 L181.3,428.83 L182.3,428.89 L189.6,428.87 L190.1,428.76 L190.6,428.37 L191.1,427.32 L191.6,425.20 L192.6,419.32 L192.8,418.51 L193.8,417.88 L194.1,418.03 L194.6,419.09 L195.8,423.34 L196.8,425.93 L197.3,426.76 L197.8,427.35 L198.3,427.74 L199.1,428.09 L200.1,428.33 L201.6,428.52 L206.6,428.79 L227.8,428.88 L228.3,428.78 L228.8,428.32 L229.3,426.84 L229.8,423.54 L230.6,416.29 L230.8,414.52 L231.1,413.72 L231.3,413.91 L231.6,414.73 L233.1,424.84 L233.3,426.07 L233.8,427.69 L234.3,428.47 L234.8,428.77 L235.6,428.88 L237.3,428.90" stroke="#000" stroke-width="1.5" fill="none" stroke-linejoin="round"/>
<line x1="258.80" y1="431.50" x2="463.60" y2="431.50" stroke="#999" stroke-width="0.8" />
<line x1="258.80" y1="431.50" x2="258.80" y2="434.10" stroke="#999" stroke-width="0.8" />
<line x1="292.93" y1="431.50" x2="292.93" y2="434.10" stroke="#999" stroke-width="0.8" />
<line x1="327.07" y1="431.50" x2="327.07" y2="434.10" stroke="#999" stroke-width="0.8" />
<line x1="361.20" y1="431.50" x2="361.20" y2="434.10" stroke="#999" stroke-width="0.8" />
<line x1="395.33" y1="431.50" x2="395.33" y2="434.10" stroke="#999" stroke-width="0.8" />
<line x1="429.47" y1="431.50" x2="429.47" y2="434.10" stroke="#999" stroke-width="0.8" />
<line x1="463.60" y1="431.50" x2="463.60" y2="434.10" stroke="#999" stroke-width="0.8" />
<path d="M258.8,428.90 L379.1,428.86 L379.3,428.77 L379.6,428.47 L379.8,427.70 L380.1,425.94 L380.3,422.46 L380.8,408.07 L381.3,388.47 L381.6,382.38 L381.8,381.54 L382.1,384.13 L382.3,389.14 L383.1,409.76 L383.6,420.30 L384.1,425.89 L384.3,427.28 L384.6,428.08 L384.8,428.51 L385.1,428.73 L385.6,428.87 L386.6,428.90 L463.6,428.90" stroke="#000" stroke-width="1.25" fill="none" stroke-dasharray="1.7 1.0"/>
<path d="M258.8,428.90 L363.6,428.88 L364.1,428.79 L364.6,428.50 L365.1,427.74 L365.6,426.33 L366.3,423.55 L366.6,422.88 L366.8,422.53 L367.1,422.54 L367.6,423.25 L369.1,427.27 L369.6,428.10 L370.1,428.56 L370.6,428.78 L371.6,428.89 L378.6,428.86 L379.1,428.66 L379.3,428.39 L379.6,427.86 L379.8,426.96 L380.3,423.53 L381.3,412.59 L381.6,411.15 L381.8,410.95 L382.1,411.54 L382.3,412.72 L383.6,422.36 L384.1,425.39 L384.6,427.27 L384.8,427.85 L385.3,428.51 L386.1,428.83 L387.1,428.90 L408.1,428.84 L408.6,428.62 L409.1,427.83 L409.6,425.67 L410.1,421.35 L411.1,409.38 L411.3,407.73 L411.6,407.31 L411.8,407.79 L412.3,410.55 L413.6,421.51 L414.1,424.79 L414.3,425.98 L414.8,427.56 L415.3,428.36 L415.8,428.71 L416.6,428.87 L417.8,428.90 L463.6,428.90" stroke="#000" stroke-width="1.5" fill="none" stroke-linejoin="round"/>
<text transform="translate(170.90,423.00) scale(1.0,1)" font-family="Liberation Sans" font-size="8.2" font-weight="bold" font-style="normal" text-anchor="start" fill="#000">8</text>
<text transform="translate(182.90,415.80) scale(1.0,1)" font-family="Liberation Sans" font-size="8.2" font-weight="bold" font-style="normal" text-anchor="start" fill="#000">9</text>
<text transform="translate(218.50,415.10) scale(1.0,1)" font-family="Liberation Sans" font-size="8.2" font-weight="bold" font-style="normal" text-anchor="start" fill="#000">10</text>
<text transform="translate(358.60,421.50) scale(1.0,1)" font-family="Liberation Sans" font-size="8.2" font-weight="bold" font-style="normal" text-anchor="start" fill="#000">8</text>
<text transform="translate(385.70,409.40) scale(1.0,1)" font-family="Liberation Sans" font-size="8.2" font-weight="bold" font-style="normal" text-anchor="start" fill="#000">9</text>
<text transform="translate(418.90,415.80) scale(1.0,1)" font-family="Liberation Sans" font-size="8.2" font-weight="bold" font-style="normal" text-anchor="start" fill="#000">10</text>
<text transform="translate(464.10,416.00) scale(1.05,1)" font-family="Liberation Sans" font-size="10.0" font-weight="normal" font-style="normal" text-anchor="start" fill="#000" stroke="#000" stroke-width="0.3">α</text>
<text transform="translate(471.00,418.40) scale(1.05,1)" font-family="Liberation Sans" font-size="6.8" font-weight="normal" font-style="normal" text-anchor="start" fill="#000" stroke="#000" stroke-width="0.3">CS</text>
<text transform="translate(483.00,416.00) scale(1.08,1)" font-family="Liberation Sans" font-size="8.4" font-weight="bold" font-style="normal" text-anchor="start" fill="#000">TMpep</text>
<line x1="33.30" y1="487.60" x2="237.50" y2="487.60" stroke="#999" stroke-width="0.8" />
<line x1="33.30" y1="487.60" x2="33.30" y2="490.20" stroke="#999" stroke-width="0.8" />
<text transform="translate(33.30,496.50) scale(1.12,1)" font-family="Liberation Sans" font-size="6.1" font-weight="bold" font-style="normal" text-anchor="middle" fill="#000">20</text>
<line x1="67.33" y1="487.60" x2="67.33" y2="490.20" stroke="#999" stroke-width="0.8" />
<text transform="translate(67.33,496.50) scale(1.12,1)" font-family="Liberation Sans" font-size="6.1" font-weight="bold" font-style="normal" text-anchor="middle" fill="#000">25</text>
<line x1="101.37" y1="487.60" x2="101.37" y2="490.20" stroke="#999" stroke-width="0.8" />
<text transform="translate(101.37,496.50) scale(1.12,1)" font-family="Liberation Sans" font-size="6.1" font-weight="bold" font-style="normal" text-anchor="middle" fill="#000">30</text>
<line x1="135.40" y1="487.60" x2="135.40" y2="490.20" stroke="#999" stroke-width="0.8" />
<text transform="translate(135.40,496.50) scale(1.12,1)" font-family="Liberation Sans" font-size="6.1" font-weight="bold" font-style="normal" text-anchor="middle" fill="#000">35</text>
<line x1="169.43" y1="487.60" x2="169.43" y2="490.20" stroke="#999" stroke-width="0.8" />
<text transform="translate(169.43,496.50) scale(1.12,1)" font-family="Liberation Sans" font-size="6.1" font-weight="bold" font-style="normal" text-anchor="middle" fill="#000">40</text>
<line x1="203.47" y1="487.60" x2="203.47" y2="490.20" stroke="#999" stroke-width="0.8" />
<text transform="translate(203.47,496.50) scale(1.12,1)" font-family="Liberation Sans" font-size="6.1" font-weight="bold" font-style="normal" text-anchor="middle" fill="#000">45</text>
<line x1="237.50" y1="487.60" x2="237.50" y2="490.20" stroke="#999" stroke-width="0.8" />
<text transform="translate(237.50,496.50) scale(1.12,1)" font-family="Liberation Sans" font-size="6.1" font-weight="bold" font-style="normal" text-anchor="middle" fill="#000">50</text>
<line x1="32.80" y1="437.50" x2="32.80" y2="490.80" stroke="#999" stroke-width="0.8" />
<line x1="30.80" y1="451.40" x2="32.80" y2="451.40" stroke="#999" stroke-width="0.8" />
<line x1="30.80" y1="485.00" x2="32.80" y2="485.00" stroke="#999" stroke-width="0.8" />
<text transform="translate(28.90,453.40) scale(0.97,1)" font-family="Liberation Sans" font-size="6.8" font-weight="bold" font-style="normal" text-anchor="end" fill="#000">0.01</text>
<text transform="translate(28.90,487.00) scale(0.97,1)" font-family="Liberation Sans" font-size="6.8" font-weight="bold" font-style="normal" text-anchor="end" fill="#000">0.00</text>
<path d="M33.3,485.00 L98.8,484.94 L99.3,484.61 L99.5,484.13 L99.8,483.22 L100.0,481.71 L101.0,470.49 L101.3,468.52 L101.5,468.01 L101.8,468.52 L102.0,469.70 L103.3,479.48 L103.8,482.29 L104.0,483.22 L104.5,484.33 L105.0,484.79 L105.5,484.94 L188.6,484.97 L189.1,484.78 L189.3,484.50 L189.6,483.93 L189.8,482.86 L190.1,481.07 L190.6,474.45 L191.6,454.87 L191.8,452.70 L192.1,452.69 L192.3,453.80 L192.6,455.82 L193.8,472.06 L194.6,479.58 L194.8,481.20 L195.3,483.30 L195.6,483.91 L196.1,484.60 L196.8,484.93 L197.8,485.00 L237.3,485.00" stroke="#000" stroke-width="1.25" fill="none" stroke-dasharray="1.7 1.0"/>
<path d="M33.3,485.00 L85.0,484.99 L86.3,484.84 L87.8,484.08 L88.3,484.00 L88.8,484.10 L90.3,484.73 L91.3,484.94 L98.3,484.98 L99.0,484.85 L99.5,484.55 L100.0,483.95 L101.0,482.29 L101.3,482.06 L101.5,482.00 L102.0,482.26 L103.3,483.85 L104.0,484.56 L104.8,484.88 L105.8,484.99 L137.6,484.97 L138.3,484.79 L138.8,484.41 L140.1,482.42 L140.3,482.13 L140.6,482.00 L140.8,482.04 L141.3,482.40 L142.6,484.03 L143.1,484.49 L143.8,484.85 L144.6,484.97 L174.6,484.97 L175.3,484.79 L175.8,484.41 L177.1,482.42 L177.3,482.13 L177.6,482.00 L177.8,482.04 L178.3,482.40 L179.8,484.28 L180.3,484.65 L180.8,484.85 L182.3,485.00 L188.1,484.94 L188.6,484.76 L189.1,484.18 L189.6,482.68 L189.8,481.35 L190.3,477.02 L190.6,473.95 L191.8,455.66 L192.1,453.69 L192.3,453.00 L192.8,452.42 L193.1,452.32 L193.3,452.82 L193.8,455.93 L195.3,470.83 L196.1,476.35 L196.6,478.89 L197.1,480.65 L197.8,482.25 L198.6,483.08 L199.6,483.65 L201.3,484.16 L203.6,484.52 L206.3,484.76 L214.6,484.97 L227.1,485.00 L228.3,484.93 L228.8,484.66 L229.3,483.78 L229.8,481.83 L230.6,477.53 L230.8,476.49 L231.1,476.01 L231.3,476.12 L231.6,476.61 L233.1,482.60 L233.3,483.32 L233.8,484.28 L234.3,484.74 L234.8,484.92 L237.3,485.00" stroke="#000" stroke-width="1.5" fill="none" stroke-linejoin="round"/>
<line x1="258.80" y1="488.20" x2="463.60" y2="488.20" stroke="#999" stroke-width="0.8" />
<line x1="258.80" y1="488.20" x2="258.80" y2="490.80" stroke="#999" stroke-width="0.8" />
<text transform="translate(258.80,497.10) scale(1.12,1)" font-family="Liberation Sans" font-size="6.1" font-weight="bold" font-style="normal" text-anchor="middle" fill="#000">20</text>
<line x1="292.93" y1="488.20" x2="292.93" y2="490.80" stroke="#999" stroke-width="0.8" />
<text transform="translate(292.93,497.10) scale(1.12,1)" font-family="Liberation Sans" font-size="6.1" font-weight="bold" font-style="normal" text-anchor="middle" fill="#000">25</text>
<line x1="327.07" y1="488.20" x2="327.07" y2="490.80" stroke="#999" stroke-width="0.8" />
<text transform="translate(327.07,497.10) scale(1.12,1)" font-family="Liberation Sans" font-size="6.1" font-weight="bold" font-style="normal" text-anchor="middle" fill="#000">30</text>
<line x1="361.20" y1="488.20" x2="361.20" y2="490.80" stroke="#999" stroke-width="0.8" />
<text transform="translate(361.20,497.10) scale(1.12,1)" font-family="Liberation Sans" font-size="6.1" font-weight="bold" font-style="normal" text-anchor="middle" fill="#000">35</text>
<line x1="395.33" y1="488.20" x2="395.33" y2="490.80" stroke="#999" stroke-width="0.8" />
<text transform="translate(395.33,497.10) scale(1.12,1)" font-family="Liberation Sans" font-size="6.1" font-weight="bold" font-style="normal" text-anchor="middle" fill="#000">40</text>
<line x1="429.47" y1="488.20" x2="429.47" y2="490.80" stroke="#999" stroke-width="0.8" />
<text transform="translate(429.47,497.10) scale(1.12,1)" font-family="Liberation Sans" font-size="6.1" font-weight="bold" font-style="normal" text-anchor="middle" fill="#000">45</text>
<line x1="463.60" y1="488.20" x2="463.60" y2="490.80" stroke="#999" stroke-width="0.8" />
<text transform="translate(463.60,497.10) scale(1.12,1)" font-family="Liberation Sans" font-size="6.1" font-weight="bold" font-style="normal" text-anchor="middle" fill="#000">50</text>
<path d="M258.8,485.60 L281.6,485.60 L282.3,485.48 L282.6,485.24 L282.8,484.63 L283.1,483.32 L283.3,480.88 L284.3,461.43 L284.6,459.17 L284.8,459.62 L285.1,461.65 L286.1,476.34 L286.6,481.64 L287.1,484.28 L287.3,484.91 L287.6,485.26 L288.1,485.53 L289.6,485.60 L376.8,485.60 L377.6,485.59 L378.1,485.47 L378.3,485.24 L378.6,484.69 L378.8,483.51 L379.1,481.25 L379.3,477.39 L379.6,471.56 L380.3,446.45 L380.6,440.27 L380.8,438.00 L381.1,439.46 L381.3,443.59 L382.3,470.15 L382.8,479.16 L383.3,483.51 L383.6,484.51 L383.8,485.07 L384.1,485.36 L384.6,485.56 L385.6,485.60 L463.6,485.60" stroke="#000" stroke-width="1.25" fill="none" stroke-dasharray="1.7 1.0"/>
<path d="M258.8,485.60 L269.6,485.57 L270.6,485.28 L271.8,484.28 L272.3,484.10 L272.8,484.21 L274.3,485.14 L275.3,485.50 L276.8,485.60 L281.6,485.57 L282.3,485.39 L282.8,485.01 L284.1,483.02 L284.3,482.73 L284.6,482.60 L284.8,482.64 L285.3,483.00 L286.6,484.63 L287.1,485.09 L287.8,485.45 L288.8,485.58 L312.3,485.57 L313.1,485.36 L313.6,484.95 L314.8,482.95 L315.1,482.69 L315.3,482.60 L315.6,482.65 L316.1,483.06 L317.1,484.39 L317.8,485.13 L318.6,485.47 L319.3,485.57 L362.8,485.60 L364.1,485.48 L364.3,485.31 L364.6,484.93 L364.8,484.19 L365.1,482.84 L365.3,480.59 L365.8,472.56 L366.6,454.90 L366.8,450.60 L367.1,448.66 L367.3,448.76 L367.6,449.54 L367.8,451.19 L368.3,457.25 L369.3,472.53 L369.6,475.33 L370.1,479.24 L370.6,481.38 L371.1,482.48 L371.8,483.26 L373.3,484.03 L375.1,484.59 L376.8,484.94 L377.8,485.01 L378.3,484.82 L378.8,484.20 L379.1,483.63 L380.3,478.80 L380.6,478.17 L380.8,477.96 L381.1,478.09 L381.6,478.99 L382.8,482.79 L383.3,483.97 L384.1,484.99 L384.8,485.39 L386.1,485.53 L390.1,485.58 L406.8,485.60 L408.1,485.52 L408.6,485.29 L408.8,485.03 L409.3,484.02 L409.8,482.16 L410.6,478.72 L410.8,477.95 L411.1,477.61 L411.3,477.71 L411.8,478.85 L412.8,482.67 L413.3,484.11 L413.6,484.60 L414.1,485.21 L414.8,485.53 L416.6,485.60 L463.6,485.60" stroke="#000" stroke-width="1.5" fill="none" stroke-linejoin="round"/>
<text transform="translate(85.60,479.80) scale(1.0,1)" font-family="Liberation Sans" font-size="8.2" font-weight="bold" font-style="normal" text-anchor="start" fill="#000">1</text>
<text transform="translate(107.40,478.40) scale(1.0,1)" font-family="Liberation Sans" font-size="8.2" font-weight="bold" font-style="normal" text-anchor="start" fill="#000">2</text>
<text transform="translate(133.80,479.00) scale(1.0,1)" font-family="Liberation Sans" font-size="8.2" font-weight="bold" font-style="normal" text-anchor="start" fill="#000">3</text>
<text transform="translate(169.80,479.80) scale(1.0,1)" font-family="Liberation Sans" font-size="8.2" font-weight="bold" font-style="normal" text-anchor="start" fill="#000">8</text>
<text transform="translate(173.60,455.10) scale(1.0,1)" font-family="Liberation Sans" font-size="8.2" font-weight="bold" font-style="normal" text-anchor="start" fill="#000">9,11</text>
<text transform="translate(219.50,473.50) scale(1.0,1)" font-family="Liberation Sans" font-size="8.2" font-weight="bold" font-style="normal" text-anchor="start" fill="#000">10</text>
<text transform="translate(267.70,480.00) scale(1.0,1)" font-family="Liberation Sans" font-size="8.2" font-weight="bold" font-style="normal" text-anchor="start" fill="#000">1</text>
<text transform="translate(288.90,479.00) scale(1.0,1)" font-family="Liberation Sans" font-size="8.2" font-weight="bold" font-style="normal" text-anchor="start" fill="#000">2</text>
<text transform="translate(316.60,479.80) scale(1.0,1)" font-family="Liberation Sans" font-size="8.2" font-weight="bold" font-style="normal" text-anchor="start" fill="#000">3</text>
<text transform="translate(346.00,465.70) scale(1.0,1)" font-family="Liberation Sans" font-size="8.2" font-weight="bold" font-style="normal" text-anchor="start" fill="#000">8,11</text>
<text transform="translate(386.30,477.30) scale(1.0,1)" font-family="Liberation Sans" font-size="8.2" font-weight="bold" font-style="normal" text-anchor="start" fill="#000">9</text>
<text transform="translate(415.90,477.70) scale(1.0,1)" font-family="Liberation Sans" font-size="8.2" font-weight="bold" font-style="normal" text-anchor="start" fill="#000">10</text>
<text transform="translate(456.20,474.40) scale(1.03,1)" font-family="Liberation Sans" font-size="9.0" font-weight="normal" font-style="normal" text-anchor="start" fill="#000" stroke="#000" stroke-width="0.3">β+α</text>
<text transform="translate(472.10,476.80) scale(1.05,1)" font-family="Liberation Sans" font-size="6.8" font-weight="normal" font-style="normal" text-anchor="start" fill="#000" stroke="#000" stroke-width="0.3">CS</text>
<text transform="translate(484.70,474.40) scale(1.08,1)" font-family="Liberation Sans" font-size="8.4" font-weight="bold" font-style="normal" text-anchor="start" fill="#000">TMpeps</text>
<text transform="translate(49.80,514.20) scale(1.1,1)" font-family="Liberation Sans" font-size="9.6" font-weight="normal" font-style="normal" text-anchor="start" fill="#000" stroke="#000" stroke-width="0.3">Elution time on the C4 column (min)</text>
<text transform="translate(267.00,514.40) scale(1.1,1)" font-family="Liberation Sans" font-size="9.6" font-weight="normal" font-style="normal" text-anchor="start" fill="#000" stroke="#000" stroke-width="0.3">Elution time on the Phenyl column (min)</text>
<text transform="translate(11.2,338.3) rotate(-90)" font-family="Liberation Sans" font-size="13.4" text-anchor="middle" stroke="#000" stroke-width="0.3">Absorbance at 280nm</text>
<text transform="translate(1.20,545.00) scale(1.0,1)" font-family="Liberation Sans" font-size="21" font-weight="bold" font-style="normal" text-anchor="start" fill="#000">D</text>
<line x1="33.30" y1="587.30" x2="237.50" y2="587.30" stroke="#999" stroke-width="0.8" />
<line x1="33.30" y1="587.30" x2="33.30" y2="589.90" stroke="#999" stroke-width="0.8" />
<line x1="67.33" y1="587.30" x2="67.33" y2="589.90" stroke="#999" stroke-width="0.8" />
<line x1="101.37" y1="587.30" x2="101.37" y2="589.90" stroke="#999" stroke-width="0.8" />
<line x1="135.40" y1="587.30" x2="135.40" y2="589.90" stroke="#999" stroke-width="0.8" />
<line x1="169.43" y1="587.30" x2="169.43" y2="589.90" stroke="#999" stroke-width="0.8" />
<line x1="203.47" y1="587.30" x2="203.47" y2="589.90" stroke="#999" stroke-width="0.8" />
<line x1="237.50" y1="587.30" x2="237.50" y2="589.90" stroke="#999" stroke-width="0.8" />
<line x1="32.80" y1="536.20" x2="32.80" y2="590.50" stroke="#999" stroke-width="0.8" />
<line x1="30.80" y1="552.80" x2="32.80" y2="552.80" stroke="#999" stroke-width="0.8" />
<line x1="30.80" y1="584.70" x2="32.80" y2="584.70" stroke="#999" stroke-width="0.8" />
<text transform="translate(28.90,554.80) scale(0.97,1)" font-family="Liberation Sans" font-size="6.8" font-weight="bold" font-style="normal" text-anchor="end" fill="#000">0.01</text>
<text transform="translate(28.90,586.70) scale(0.97,1)" font-family="Liberation Sans" font-size="6.8" font-weight="bold" font-style="normal" text-anchor="end" fill="#000">0.00</text>
<path d="M33.3,584.70 L96.5,584.70 L97.8,584.57 L98.0,584.39 L98.3,584.01 L98.5,583.27 L99.0,579.78 L99.5,572.27 L100.3,556.76 L100.5,553.33 L100.8,552.10 L101.0,552.35 L101.3,553.10 L101.8,555.93 L103.5,572.03 L104.0,575.99 L104.5,579.08 L105.0,581.29 L105.8,583.27 L106.5,584.18 L107.3,584.53 L108.3,584.67 L110.3,584.70 L237.3,584.70" stroke="#000" stroke-width="1.25" fill="none" stroke-dasharray="1.7 1.0"/>
<path d="M33.3,584.70 L85.8,584.69 L87.0,584.55 L88.5,583.80 L89.0,583.70 L89.8,583.87 L91.3,584.49 L92.0,584.64 L98.3,584.69 L99.0,584.58 L99.5,584.33 L100.0,583.83 L101.0,582.44 L101.3,582.25 L101.5,582.20 L101.8,582.27 L102.3,582.63 L103.8,584.18 L104.5,584.54 L105.3,584.67 L136.1,584.65 L136.6,584.44 L136.8,584.16 L137.1,583.64 L137.6,581.35 L138.1,576.46 L139.1,561.15 L139.3,558.51 L139.6,557.33 L139.8,557.31 L140.1,557.46 L140.3,558.02 L140.6,559.16 L141.1,563.18 L142.3,575.31 L143.1,579.71 L143.6,581.36 L144.1,582.33 L144.8,583.07 L146.1,583.60 L148.1,584.04 L150.8,584.37 L154.1,584.55 L158.6,584.65 L237.3,584.70" stroke="#000" stroke-width="1.5" fill="none" stroke-linejoin="round"/>
<line x1="258.80" y1="587.10" x2="463.60" y2="587.10" stroke="#999" stroke-width="0.8" />
<line x1="258.80" y1="587.10" x2="258.80" y2="589.70" stroke="#999" stroke-width="0.8" />
<line x1="292.93" y1="587.10" x2="292.93" y2="589.70" stroke="#999" stroke-width="0.8" />
<line x1="327.07" y1="587.10" x2="327.07" y2="589.70" stroke="#999" stroke-width="0.8" />
<line x1="361.20" y1="587.10" x2="361.20" y2="589.70" stroke="#999" stroke-width="0.8" />
<line x1="395.33" y1="587.10" x2="395.33" y2="589.70" stroke="#999" stroke-width="0.8" />
<line x1="429.47" y1="587.10" x2="429.47" y2="589.70" stroke="#999" stroke-width="0.8" />
<line x1="463.60" y1="587.10" x2="463.60" y2="589.70" stroke="#999" stroke-width="0.8" />
<path d="M258.8,584.50 L280.3,584.49 L280.8,584.39 L281.1,584.19 L281.3,583.70 L281.6,582.62 L281.8,580.52 L282.1,576.85 L282.6,563.37 L283.3,537.89 L283.6,534.60 L283.8,535.49 L284.1,539.31 L285.1,567.02 L285.6,577.03 L285.8,580.05 L286.1,582.01 L286.3,583.19 L286.6,583.86 L286.8,584.20 L287.3,584.45 L463.6,584.50" stroke="#000" stroke-width="1.25" fill="none" stroke-dasharray="1.7 1.0"/>
<path d="M258.8,584.50 L269.6,584.47 L270.6,584.18 L271.8,583.18 L272.3,583.00 L273.1,583.23 L274.6,584.16 L275.6,584.43 L281.8,584.46 L282.3,584.33 L282.8,584.01 L283.3,583.37 L284.3,581.73 L284.6,581.53 L284.8,581.51 L285.3,581.80 L286.6,583.41 L287.1,583.91 L287.6,584.23 L288.3,584.44 L289.8,584.49 L290.8,584.39 L291.6,584.05 L292.6,583.21 L293.1,583.00 L293.8,583.20 L295.6,584.25 L296.6,584.46 L309.8,584.50 L310.8,584.38 L311.1,584.20 L311.3,583.82 L311.6,583.08 L312.1,579.62 L312.6,572.19 L313.3,556.82 L313.6,553.42 L313.8,552.20 L314.1,552.71 L314.3,554.28 L314.6,556.85 L315.6,571.63 L316.3,579.41 L316.8,581.89 L317.3,583.04 L317.8,583.52 L318.8,583.88 L320.6,584.16 L322.8,584.34 L330.3,584.49 L463.6,584.50" stroke="#000" stroke-width="1.5" fill="none" stroke-linejoin="round"/>
<text transform="translate(83.40,577.70) scale(1.0,1)" font-family="Liberation Sans" font-size="8.5" font-weight="bold" font-style="normal" text-anchor="start" fill="#000">1</text>
<text transform="translate(105.10,572.90) scale(1.0,1)" font-family="Liberation Sans" font-size="8.5" font-weight="bold" font-style="normal" text-anchor="start" fill="#000">2</text>
<text transform="translate(131.00,573.70) scale(1.0,1)" font-family="Liberation Sans" font-size="8.5" font-weight="bold" font-style="normal" text-anchor="start" fill="#000">3</text>
<text transform="translate(267.10,579.30) scale(1.0,1)" font-family="Liberation Sans" font-size="8.5" font-weight="bold" font-style="normal" text-anchor="start" fill="#000">1</text>
<text transform="translate(289.20,577.10) scale(1.0,1)" font-family="Liberation Sans" font-size="8.5" font-weight="bold" font-style="normal" text-anchor="start" fill="#000">2</text>
<text transform="translate(319.50,573.60) scale(1.0,1)" font-family="Liberation Sans" font-size="8.5" font-weight="bold" font-style="normal" text-anchor="start" fill="#000">3</text>
<text transform="translate(-0.50,570.50) scale(1.03,1)" font-family="Liberation Sans" font-size="9.0" font-weight="normal" font-style="normal" text-anchor="start" fill="#000" stroke="#000" stroke-width="0.3"></text>
<text transform="translate(463.50,570.50) scale(1.08,1)" font-family="Liberation Sans" font-size="8.4" font-weight="bold" font-style="normal" text-anchor="start" fill="#000">β TMpep</text>
<line x1="33.30" y1="643.70" x2="237.50" y2="643.70" stroke="#999" stroke-width="0.8" />
<line x1="33.30" y1="643.70" x2="33.30" y2="646.30" stroke="#999" stroke-width="0.8" />
<line x1="67.33" y1="643.70" x2="67.33" y2="646.30" stroke="#999" stroke-width="0.8" />
<line x1="101.37" y1="643.70" x2="101.37" y2="646.30" stroke="#999" stroke-width="0.8" />
<line x1="135.40" y1="643.70" x2="135.40" y2="646.30" stroke="#999" stroke-width="0.8" />
<line x1="169.43" y1="643.70" x2="169.43" y2="646.30" stroke="#999" stroke-width="0.8" />
<line x1="203.47" y1="643.70" x2="203.47" y2="646.30" stroke="#999" stroke-width="0.8" />
<line x1="237.50" y1="643.70" x2="237.50" y2="646.30" stroke="#999" stroke-width="0.8" />
<line x1="32.80" y1="592.20" x2="32.80" y2="646.90" stroke="#999" stroke-width="0.8" />
<line x1="30.80" y1="608.70" x2="32.80" y2="608.70" stroke="#999" stroke-width="0.8" />
<line x1="30.80" y1="641.10" x2="32.80" y2="641.10" stroke="#999" stroke-width="0.8" />
<text transform="translate(28.90,610.70) scale(0.97,1)" font-family="Liberation Sans" font-size="6.8" font-weight="bold" font-style="normal" text-anchor="end" fill="#000">0.01</text>
<text transform="translate(28.90,643.10) scale(0.97,1)" font-family="Liberation Sans" font-size="6.8" font-weight="bold" font-style="normal" text-anchor="end" fill="#000">0.00</text>
<path d="M33.3,641.10 L186.8,641.10 L188.3,641.03 L188.8,640.67 L189.1,640.15 L189.3,639.14 L189.8,634.58 L190.3,625.15 L191.1,606.86 L191.3,603.25 L191.6,602.31 L191.8,602.63 L192.1,603.39 L192.6,606.14 L193.1,610.18 L194.8,627.24 L195.8,634.34 L196.3,636.70 L196.8,638.37 L197.3,639.49 L198.1,640.43 L198.6,640.75 L199.1,640.92 L200.8,641.09 L237.3,641.10" stroke="#000" stroke-width="1.25" fill="none" stroke-dasharray="1.7 1.0"/>
<path d="M33.3,641.10 L173.3,641.10 L174.3,641.03 L174.8,640.90 L175.3,640.61 L176.3,639.78 L176.8,639.60 L177.3,639.71 L178.8,640.64 L179.8,641.00 L181.1,641.09 L184.3,641.08 L184.8,640.91 L185.1,640.57 L185.3,639.82 L185.6,638.39 L185.8,636.04 L186.6,625.74 L186.8,623.88 L187.1,623.94 L187.3,625.34 L188.6,637.78 L188.8,639.07 L189.1,639.80 L189.3,640.07 L189.6,639.98 L189.8,639.59 L191.1,635.68 L191.3,635.22 L191.6,635.10 L192.1,635.37 L192.6,636.04 L194.1,638.90 L194.8,639.98 L195.6,640.62 L196.6,640.98 L199.3,641.10 L219.3,641.10 L220.8,641.01 L221.6,640.74 L222.1,640.32 L222.6,639.65 L223.8,637.50 L224.3,637.11 L224.6,637.12 L224.8,637.28 L225.8,638.57 L226.1,638.74 L226.3,638.65 L226.6,638.22 L226.8,637.39 L227.8,631.91 L228.1,631.16 L228.3,631.09 L228.6,631.43 L228.8,632.10 L230.3,638.39 L230.8,639.75 L231.3,640.52 L231.8,640.88 L232.6,641.06 L237.3,641.10" stroke="#000" stroke-width="1.5" fill="none" stroke-linejoin="round"/>
<line x1="258.80" y1="643.10" x2="463.60" y2="643.10" stroke="#999" stroke-width="0.8" />
<line x1="258.80" y1="643.10" x2="258.80" y2="645.70" stroke="#999" stroke-width="0.8" />
<line x1="292.93" y1="643.10" x2="292.93" y2="645.70" stroke="#999" stroke-width="0.8" />
<line x1="327.07" y1="643.10" x2="327.07" y2="645.70" stroke="#999" stroke-width="0.8" />
<line x1="361.20" y1="643.10" x2="361.20" y2="645.70" stroke="#999" stroke-width="0.8" />
<line x1="395.33" y1="643.10" x2="395.33" y2="645.70" stroke="#999" stroke-width="0.8" />
<line x1="429.47" y1="643.10" x2="429.47" y2="645.70" stroke="#999" stroke-width="0.8" />
<line x1="463.60" y1="643.10" x2="463.60" y2="645.70" stroke="#999" stroke-width="0.8" />
<path d="M258.8,640.50 L378.6,640.45 L378.8,640.34 L379.1,640.07 L379.3,639.43 L379.6,638.09 L379.8,635.58 L380.3,625.24 L381.1,600.38 L381.3,594.95 L381.6,593.54 L381.8,594.95 L382.1,598.19 L383.3,625.24 L383.8,633.01 L384.1,635.58 L384.6,638.64 L385.1,639.91 L385.6,640.34 L386.1,640.46 L387.3,640.50 L463.6,640.50" stroke="#000" stroke-width="1.25" fill="none" stroke-dasharray="1.7 1.0"/>
<path d="M258.8,640.50 L363.8,640.50 L365.3,640.36 L366.8,639.62 L367.3,639.50 L367.8,639.57 L369.3,640.19 L370.3,640.43 L374.6,640.47 L374.8,640.37 L375.1,640.05 L375.3,639.21 L375.6,637.36 L376.6,621.41 L376.8,620.95 L377.1,622.60 L378.1,635.75 L378.6,639.09 L378.8,639.77 L379.1,640.04 L379.3,640.04 L379.8,639.55 L381.1,636.89 L381.3,636.58 L381.6,636.50 L381.8,636.58 L382.3,637.03 L383.6,638.93 L384.3,639.80 L385.1,640.26 L385.8,640.43 L397.8,640.49 L399.3,640.44 L400.6,640.29 L401.6,639.98 L402.3,639.59 L403.3,638.83 L405.3,637.01 L406.1,636.60 L406.6,636.50 L407.1,636.58 L407.6,636.86 L410.1,639.33 L410.8,639.82 L411.3,639.92 L411.8,639.64 L412.3,638.66 L412.8,636.73 L413.6,633.08 L413.8,632.26 L414.1,631.90 L414.3,631.99 L414.8,633.06 L416.1,637.71 L416.6,639.04 L416.8,639.50 L417.3,640.08 L418.1,640.41 L419.8,640.50 L463.6,640.50" stroke="#000" stroke-width="1.5" fill="none" stroke-linejoin="round"/>
<text transform="translate(173.80,622.00) scale(1.0,1)" font-family="Liberation Sans" font-size="8.5" font-weight="bold" font-style="normal" text-anchor="start" fill="#000">12</text>
<text transform="translate(194.30,613.90) scale(1.0,1)" font-family="Liberation Sans" font-size="8.5" font-weight="bold" font-style="normal" text-anchor="start" fill="#000">13</text>
<text transform="translate(227.10,628.10) scale(1.0,1)" font-family="Liberation Sans" font-size="8.5" font-weight="bold" font-style="normal" text-anchor="start" fill="#000">14</text>
<text transform="translate(363.80,620.80) scale(1.0,1)" font-family="Liberation Sans" font-size="8.5" font-weight="bold" font-style="normal" text-anchor="start" fill="#000">12</text>
<text transform="translate(385.50,613.40) scale(1.0,1)" font-family="Liberation Sans" font-size="8.5" font-weight="bold" font-style="normal" text-anchor="start" fill="#000">13</text>
<text transform="translate(410.90,629.80) scale(1.0,1)" font-family="Liberation Sans" font-size="8.5" font-weight="bold" font-style="normal" text-anchor="start" fill="#000">14</text>
<text transform="translate(463.70,629.40) scale(1.05,1)" font-family="Liberation Sans" font-size="10.0" font-weight="normal" font-style="normal" text-anchor="start" fill="#000" stroke="#000" stroke-width="0.3">α</text>
<text transform="translate(469.90,631.80) scale(1.05,1)" font-family="Liberation Sans" font-size="6.8" font-weight="normal" font-style="normal" text-anchor="start" fill="#000" stroke="#000" stroke-width="0.3">CC</text>
<text transform="translate(482.40,629.40) scale(1.08,1)" font-family="Liberation Sans" font-size="8.4" font-weight="bold" font-style="normal" text-anchor="start" fill="#000">TMpep</text>
<line x1="33.30" y1="701.00" x2="237.50" y2="701.00" stroke="#999" stroke-width="0.8" />
<line x1="33.30" y1="701.00" x2="33.30" y2="703.60" stroke="#999" stroke-width="0.8" />
<text transform="translate(33.30,709.90) scale(1.12,1)" font-family="Liberation Sans" font-size="6.1" font-weight="bold" font-style="normal" text-anchor="middle" fill="#000">20</text>
<line x1="67.33" y1="701.00" x2="67.33" y2="703.60" stroke="#999" stroke-width="0.8" />
<text transform="translate(67.33,709.90) scale(1.12,1)" font-family="Liberation Sans" font-size="6.1" font-weight="bold" font-style="normal" text-anchor="middle" fill="#000">25</text>
<line x1="101.37" y1="701.00" x2="101.37" y2="703.60" stroke="#999" stroke-width="0.8" />
<text transform="translate(101.37,709.90) scale(1.12,1)" font-family="Liberation Sans" font-size="6.1" font-weight="bold" font-style="normal" text-anchor="middle" fill="#000">30</text>
<line x1="135.40" y1="701.00" x2="135.40" y2="703.60" stroke="#999" stroke-width="0.8" />
<text transform="translate(135.40,709.90) scale(1.12,1)" font-family="Liberation Sans" font-size="6.1" font-weight="bold" font-style="normal" text-anchor="middle" fill="#000">35</text>
<line x1="169.43" y1="701.00" x2="169.43" y2="703.60" stroke="#999" stroke-width="0.8" />
<text transform="translate(169.43,709.90) scale(1.12,1)" font-family="Liberation Sans" font-size="6.1" font-weight="bold" font-style="normal" text-anchor="middle" fill="#000">40</text>
<line x1="203.47" y1="701.00" x2="203.47" y2="703.60" stroke="#999" stroke-width="0.8" />
<text transform="translate(203.47,709.90) scale(1.12,1)" font-family="Liberation Sans" font-size="6.1" font-weight="bold" font-style="normal" text-anchor="middle" fill="#000">45</text>
<line x1="237.50" y1="701.00" x2="237.50" y2="703.60" stroke="#999" stroke-width="0.8" />
<text transform="translate(237.50,709.90) scale(1.12,1)" font-family="Liberation Sans" font-size="6.1" font-weight="bold" font-style="normal" text-anchor="middle" fill="#000">50</text>
<line x1="32.80" y1="650.00" x2="32.80" y2="704.20" stroke="#999" stroke-width="0.8" />
<line x1="30.80" y1="666.20" x2="32.80" y2="666.20" stroke="#999" stroke-width="0.8" />
<line x1="30.80" y1="698.40" x2="32.80" y2="698.40" stroke="#999" stroke-width="0.8" />
<text transform="translate(28.90,668.20) scale(0.97,1)" font-family="Liberation Sans" font-size="6.8" font-weight="bold" font-style="normal" text-anchor="end" fill="#000">0.01</text>
<text transform="translate(28.90,700.40) scale(0.97,1)" font-family="Liberation Sans" font-size="6.8" font-weight="bold" font-style="normal" text-anchor="end" fill="#000">0.00</text>
<path d="M33.3,698.40 L95.0,698.40 L96.0,698.37 L96.5,698.23 L96.8,698.04 L97.0,697.66 L97.3,696.97 L97.8,693.99 L98.3,687.82 L99.3,669.63 L99.5,666.80 L99.8,665.80 L100.0,666.01 L100.3,666.63 L100.8,669.00 L101.3,672.56 L103.0,687.45 L103.5,690.77 L104.0,693.36 L104.5,695.23 L105.0,696.51 L105.8,697.61 L106.5,698.11 L107.5,698.33 L109.5,698.40 L187.6,698.35 L188.1,698.13 L188.3,697.82 L188.6,697.24 L189.1,694.53 L189.3,691.99 L189.8,683.76 L190.8,662.40 L191.1,659.84 L191.3,659.44 L191.6,659.89 L191.8,660.82 L192.3,663.98 L194.3,683.95 L195.3,691.53 L195.8,694.02 L196.3,695.74 L196.8,696.87 L197.6,697.79 L198.1,698.09 L198.6,698.25 L200.3,698.39 L237.3,698.40" stroke="#000" stroke-width="1.25" fill="none" stroke-dasharray="1.7 1.0"/>
<path d="M33.3,698.40 L84.0,698.39 L85.3,698.26 L86.8,697.52 L87.3,697.40 L88.0,697.55 L89.5,698.18 L90.5,698.36 L97.8,698.37 L98.5,698.15 L99.0,697.65 L99.5,696.65 L100.5,693.88 L100.8,693.50 L101.0,693.40 L101.3,693.50 L101.8,694.06 L103.0,696.43 L103.8,697.52 L104.5,698.10 L105.3,698.32 L107.5,698.40 L135.8,698.36 L136.3,698.22 L136.8,697.72 L137.3,696.39 L137.8,693.82 L138.8,687.14 L139.1,686.34 L139.3,686.23 L139.6,686.58 L140.1,688.25 L141.1,693.30 L141.8,696.23 L142.1,696.86 L142.6,697.70 L143.3,698.23 L144.1,698.37 L145.3,698.40 L182.1,698.36 L182.8,698.18 L183.3,697.86 L183.8,697.17 L184.3,695.93 L185.1,692.67 L186.6,683.83 L186.8,682.96 L187.1,682.48 L187.3,682.43 L187.6,682.78 L188.1,684.51 L189.3,691.64 L190.1,695.13 L190.8,697.13 L191.3,697.80 L192.1,698.24 L193.6,698.39 L201.8,698.39 L202.6,698.32 L203.1,698.04 L203.6,697.21 L203.8,696.43 L204.3,693.90 L205.3,687.32 L205.6,686.53 L205.8,686.43 L206.1,686.77 L206.6,688.42 L207.6,693.39 L208.3,696.26 L208.6,696.89 L209.1,697.71 L209.8,698.23 L211.1,698.38 L212.6,698.16 L213.6,697.59 L215.1,696.19 L215.8,695.90 L216.6,696.19 L218.1,697.59 L218.8,698.06 L219.6,698.28 L220.6,698.29 L221.3,698.10 L221.8,697.84 L223.6,696.23 L224.3,695.77 L224.8,695.69 L226.3,695.86 L227.6,695.69 L228.1,695.78 L228.6,696.07 L230.3,697.70 L231.3,698.21 L232.8,698.39 L237.3,698.40" stroke="#000" stroke-width="1.5" fill="none" stroke-linejoin="round"/>
<line x1="258.80" y1="700.20" x2="463.60" y2="700.20" stroke="#999" stroke-width="0.8" />
<line x1="258.80" y1="700.20" x2="258.80" y2="702.80" stroke="#999" stroke-width="0.8" />
<text transform="translate(258.80,709.10) scale(1.12,1)" font-family="Liberation Sans" font-size="6.1" font-weight="bold" font-style="normal" text-anchor="middle" fill="#000">20</text>
<line x1="292.93" y1="700.20" x2="292.93" y2="702.80" stroke="#999" stroke-width="0.8" />
<text transform="translate(292.93,709.10) scale(1.12,1)" font-family="Liberation Sans" font-size="6.1" font-weight="bold" font-style="normal" text-anchor="middle" fill="#000">25</text>
<line x1="327.07" y1="700.20" x2="327.07" y2="702.80" stroke="#999" stroke-width="0.8" />
<text transform="translate(327.07,709.10) scale(1.12,1)" font-family="Liberation Sans" font-size="6.1" font-weight="bold" font-style="normal" text-anchor="middle" fill="#000">30</text>
<line x1="361.20" y1="700.20" x2="361.20" y2="702.80" stroke="#999" stroke-width="0.8" />
<text transform="translate(361.20,709.10) scale(1.12,1)" font-family="Liberation Sans" font-size="6.1" font-weight="bold" font-style="normal" text-anchor="middle" fill="#000">35</text>
<line x1="395.33" y1="700.20" x2="395.33" y2="702.80" stroke="#999" stroke-width="0.8" />
<text transform="translate(395.33,709.10) scale(1.12,1)" font-family="Liberation Sans" font-size="6.1" font-weight="bold" font-style="normal" text-anchor="middle" fill="#000">40</text>
<line x1="429.47" y1="700.20" x2="429.47" y2="702.80" stroke="#999" stroke-width="0.8" />
<text transform="translate(429.47,709.10) scale(1.12,1)" font-family="Liberation Sans" font-size="6.1" font-weight="bold" font-style="normal" text-anchor="middle" fill="#000">45</text>
<line x1="463.60" y1="700.20" x2="463.60" y2="702.80" stroke="#999" stroke-width="0.8" />
<text transform="translate(463.60,709.10) scale(1.12,1)" font-family="Liberation Sans" font-size="6.1" font-weight="bold" font-style="normal" text-anchor="middle" fill="#000">50</text>
<path d="M258.8,697.60 L279.8,697.59 L280.3,697.53 L280.6,697.41 L280.8,697.08 L281.1,696.33 L281.3,694.80 L281.8,687.44 L282.8,656.12 L283.1,651.42 L283.3,650.83 L283.6,653.39 L283.8,658.34 L284.6,678.70 L285.1,689.11 L285.6,694.63 L285.8,696.00 L286.1,696.79 L286.3,697.22 L286.6,697.43 L287.1,697.57 L288.1,697.60 L377.1,697.60 L378.3,697.53 L378.6,697.40 L378.8,697.07 L379.1,696.30 L379.3,694.74 L379.6,691.88 L380.1,680.52 L380.8,655.24 L381.1,650.44 L381.3,649.84 L381.6,652.45 L381.8,657.51 L382.6,678.30 L383.1,688.93 L383.6,694.57 L383.8,695.97 L384.1,696.77 L384.3,697.21 L384.6,697.42 L385.1,697.57 L386.1,697.60 L463.6,697.60" stroke="#000" stroke-width="1.25" fill="none" stroke-dasharray="1.7 1.0"/>
<path d="M258.8,697.60 L269.1,697.57 L270.1,697.28 L271.3,696.28 L271.8,696.10 L272.6,696.33 L274.1,697.26 L275.1,697.53 L279.8,697.60 L281.3,697.53 L281.8,697.32 L282.3,696.78 L282.8,695.72 L283.8,692.98 L284.1,692.66 L284.3,692.61 L284.8,693.11 L286.1,695.78 L286.6,696.62 L287.1,697.15 L287.8,697.49 L289.8,697.60 L310.8,697.54 L311.3,697.29 L311.6,696.95 L312.1,695.38 L312.6,692.00 L313.3,685.00 L313.6,683.46 L313.8,682.90 L314.1,683.22 L314.3,684.12 L315.6,692.52 L316.1,695.07 L316.3,695.92 L316.8,696.95 L317.3,697.39 L318.1,697.57 L355.3,697.60 L356.6,697.52 L357.1,697.21 L357.3,696.83 L357.8,695.19 L358.8,688.23 L359.1,686.75 L359.3,685.97 L359.6,685.99 L359.8,686.53 L360.1,687.50 L361.1,693.05 L361.8,696.02 L362.3,696.97 L362.6,697.22 L363.1,697.45 L363.6,697.39 L363.8,697.25 L364.3,696.56 L364.8,695.10 L365.8,690.80 L366.1,690.14 L366.3,689.90 L366.6,690.07 L366.8,690.54 L368.3,695.68 L368.6,696.27 L369.1,697.04 L369.6,697.40 L370.1,697.54 L373.6,697.60 L374.1,697.57 L374.6,697.38 L374.8,697.12 L375.1,696.65 L375.6,694.75 L376.3,690.54 L376.6,689.74 L376.8,689.64 L377.1,690.08 L377.3,690.92 L378.1,694.38 L378.6,696.12 L378.8,696.64 L379.1,696.92 L379.3,696.99 L379.6,696.83 L379.8,696.43 L380.1,695.76 L380.6,693.57 L381.6,688.19 L381.8,687.65 L382.1,687.63 L382.6,688.11 L383.1,689.12 L384.8,694.10 L385.6,695.71 L386.1,696.44 L386.6,696.93 L387.3,697.34 L388.1,697.50 L389.1,697.50 L389.8,697.33 L390.6,696.95 L392.1,695.83 L392.8,695.60 L393.6,695.84 L395.3,697.10 L396.3,697.47 L398.1,697.60 L401.6,697.53 L402.8,697.15 L404.6,695.90 L405.3,695.60 L406.1,695.78 L407.6,696.88 L408.3,697.29 L409.3,697.53 L410.6,697.56 L411.3,697.47 L412.1,697.23 L414.1,695.84 L414.8,695.60 L415.6,695.84 L417.6,697.23 L418.3,697.47 L419.3,697.58 L463.6,697.60" stroke="#000" stroke-width="1.5" fill="none" stroke-linejoin="round"/>
<text transform="translate(84.30,693.80) scale(1.0,1)" font-family="Liberation Sans" font-size="8.5" font-weight="bold" font-style="normal" text-anchor="start" fill="#000">1</text>
<text transform="translate(105.90,688.60) scale(1.0,1)" font-family="Liberation Sans" font-size="8.5" font-weight="bold" font-style="normal" text-anchor="start" fill="#000">2</text>
<text transform="translate(131.90,689.70) scale(1.0,1)" font-family="Liberation Sans" font-size="8.5" font-weight="bold" font-style="normal" text-anchor="start" fill="#000">3</text>
<text transform="translate(152.20,689.10) scale(1.0,1)" font-family="Liberation Sans" font-size="8.5" font-weight="bold" font-style="normal" text-anchor="start" fill="#000">12,15,16</text>
<text transform="translate(201.50,683.40) scale(1.0,1)" font-family="Liberation Sans" font-size="8.5" font-weight="bold" font-style="normal" text-anchor="start" fill="#000">17</text>
<text transform="translate(225.80,690.90) scale(1.0,1)" font-family="Liberation Sans" font-size="8.5" font-weight="bold" font-style="normal" text-anchor="start" fill="#000">14</text>
<text transform="translate(266.40,693.50) scale(1.0,1)" font-family="Liberation Sans" font-size="8.5" font-weight="bold" font-style="normal" text-anchor="start" fill="#000">1</text>
<text transform="translate(288.90,690.30) scale(1.0,1)" font-family="Liberation Sans" font-size="8.5" font-weight="bold" font-style="normal" text-anchor="start" fill="#000">2</text>
<text transform="translate(318.30,687.40) scale(1.0,1)" font-family="Liberation Sans" font-size="8.5" font-weight="bold" font-style="normal" text-anchor="start" fill="#000">3</text>
<text transform="translate(347.90,687.40) scale(1.0,1)" font-family="Liberation Sans" font-size="8.5" font-weight="bold" font-style="normal" text-anchor="start" fill="#000">15</text>
<text transform="translate(361.20,686.50) scale(1.0,1)" font-family="Liberation Sans" font-size="8.5" font-weight="bold" font-style="normal" text-anchor="start" fill="#000">16</text>
<text transform="translate(368.20,679.30) scale(1.0,1)" font-family="Liberation Sans" font-size="8.5" font-weight="bold" font-style="normal" text-anchor="start" fill="#000">12</text>
<text transform="translate(397.10,675.80) scale(1.0,1)" font-family="Liberation Sans" font-size="8.5" font-weight="bold" font-style="normal" text-anchor="start" fill="#000">17</text>
<text transform="translate(413.20,690.30) scale(1.0,1)" font-family="Liberation Sans" font-size="8.5" font-weight="bold" font-style="normal" text-anchor="start" fill="#000">14</text>
<line x1="374.60" y1="683.90" x2="376.30" y2="687.90" stroke="#777" stroke-width="0.7" />
<line x1="397.10" y1="677.00" x2="385.30" y2="687.90" stroke="#777" stroke-width="0.7" />
<text transform="translate(456.00,686.40) scale(1.03,1)" font-family="Liberation Sans" font-size="9.0" font-weight="normal" font-style="normal" text-anchor="start" fill="#000" stroke="#000" stroke-width="0.3">β+α</text>
<text transform="translate(471.90,688.80) scale(1.05,1)" font-family="Liberation Sans" font-size="6.8" font-weight="normal" font-style="normal" text-anchor="start" fill="#000" stroke="#000" stroke-width="0.3">CC</text>
<text transform="translate(484.70,686.40) scale(1.08,1)" font-family="Liberation Sans" font-size="8.4" font-weight="bold" font-style="normal" text-anchor="start" fill="#000">TMpeps</text>
<text transform="translate(49.80,728.30) scale(1.1,1)" font-family="Liberation Sans" font-size="9.6" font-weight="normal" font-style="normal" text-anchor="start" fill="#000" stroke="#000" stroke-width="0.3">Elution time on the C4 column (min)</text>
<text transform="translate(267.20,728.40) scale(1.1,1)" font-family="Liberation Sans" font-size="9.6" font-weight="normal" font-style="normal" text-anchor="start" fill="#000" stroke="#000" stroke-width="0.3">Elution time on the Phenyl column (min)</text>
<text transform="translate(11.2,627.1) rotate(-90)" font-family="Liberation Sans" font-size="12.7" text-anchor="middle" stroke="#000" stroke-width="0.3">Absorbance at 280nm</text>
</svg></body></html>
